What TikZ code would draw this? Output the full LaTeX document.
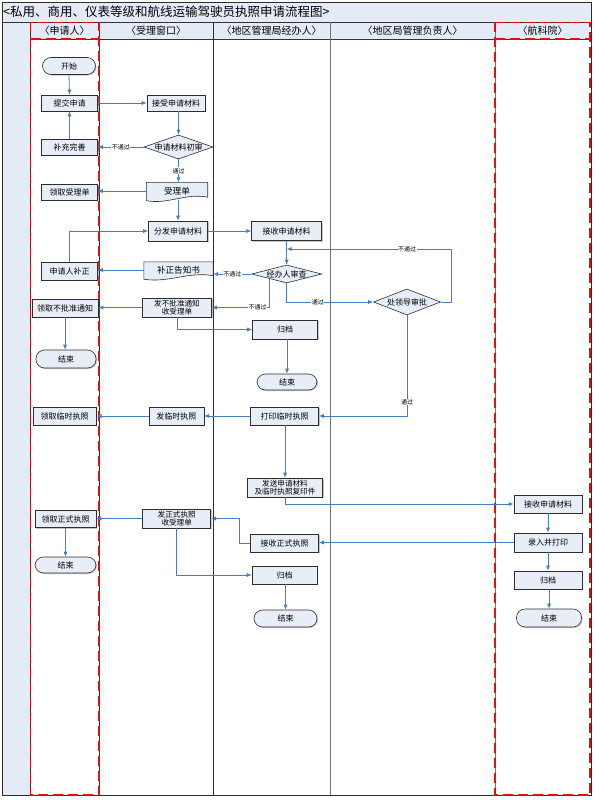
\documentclass[tikz,border=0pt]{standalone}
\usepackage{fontspec}
\setmainfont{Noto Sans CJK SC}
\usetikzlibrary{shapes.geometric,shadows,calc,arrows.meta}
\definecolor{hdr}{HTML}{E4EBF6}
\definecolor{bfill}{HTML}{E8EEF8}
\definecolor{bline}{HTML}{2E2E2E}
\definecolor{arrc}{HTML}{4A7EBB}
\definecolor{dred}{HTML}{E01010}
\pgfdeclarelayer{back}
\pgfdeclarelayer{bg}
\pgfsetlayers{back,bg,main}
\newcommand\mydocshape[1]{%
  \filldraw[draw=bline, fill=bfill, line width=0.6pt]
    (#1.north west) -- (#1.north east) -- ($(#1.south east)+(0,-2.5)$)
    .. controls ($(#1.south east)!0.35!(#1.south west)+(0,-7)$) and ($(#1.south east)!0.65!(#1.south west)+(0,5)$) .. ($(#1.south west)+(0,1)$) -- cycle;}
\begin{document}
\begin{tikzpicture}[x=1pt,y=-1pt,
  box/.style={rectangle, draw=bline, fill=bfill, line width=0.6pt, inner sep=0.5pt,
    font=\fontsize{8}{8.8}\selectfont, align=center,
    drop shadow={shadow xshift=1pt, shadow yshift=-1pt, fill=black!45}},
  term/.style={box, rounded corners=8.5pt},
  dec/.style={diamond, draw=bline, fill=bfill, line width=0.6pt, inner sep=0pt},
  dtxt/.style={font=\fontsize{8}{8.8}\selectfont},
  docn/.style={rectangle, inner sep=0.5pt, font=\fontsize{8.6}{9}\selectfont, align=center},
  arr/.style={draw=arrc, line width=0.8pt, -{Latex[length=5pt,width=4.2pt]}},
  lbl/.style={fill=white, inner sep=0.6pt, font=\fontsize{6}{6}\selectfont, text=black},
  hd/.style={font=\fontsize{10}{10}\selectfont, inner sep=0pt},
  rdash/.style={draw=dred, line width=1.9pt, dash pattern=on 10pt off 5pt}
]
\useasboundingbox (0,0) rectangle (595,800);
\begin{pgfonlayer}{back}
  \fill[white] (0,0) rectangle (595,800);
  \fill[hdr] (2,2) rectangle (591,39);
  \fill[hdr] (2,39) rectangle (30,795);
\end{pgfonlayer}
% frame and lanes
\draw[black!80, line width=0.6pt] (2,22) -- (591,22);
\draw[black!80, line width=0.6pt] (30,39) -- (591,39);
\draw[bline, line width=0.8pt] (30,22) -- (30,795);
\draw[bline, line width=0.8pt] (99,22) -- (99,795);
\draw[bline, line width=0.8pt] (213,22) -- (213,795);
\draw[black!55, line width=0.8pt] (330,22) -- (330,795);
\draw[black!55, line width=0.8pt] (495,22) -- (495,795);
\draw[bline, line width=0.9pt] (2,2) rectangle (591,795);
\draw[rdash] (30.5,22.5) rectangle (99,795);
\draw[rdash] (30.5,39) -- (99,39);
\draw[rdash] (495,22.5) rectangle (590,795);
\draw[rdash] (495,39) -- (590,39);
% title and headers
\node[anchor=west, font=\fontsize{12.5}{12.5}\selectfont, inner sep=0pt] (title) at (3,12) {<私用、商用、仪表等级和航线运输驾驶员执照申请流程图>};
\node[hd] (h1) at (64.5,30.5) {〈申请人〉};
\node[hd] (h2) at (156,30.5) {〈受理窗口〉};
\node[hd] (h3) at (271.5,30.5) {〈地区管理局经办人〉};
\node[hd] (h4) at (412.5,30.5) {〈地区局管理负责人〉};
\node[hd] (h5) at (542.5,30.5) {〈航科院〉};
% lane 1
\node[term, minimum width=53pt, minimum height=17pt] (start) at (69,66) {开始};
\node[box, minimum width=56pt, minimum height=16pt] (submit) at (69.5,103) {提交申请};
\node[box, minimum width=56pt, minimum height=16pt] (supp) at (69.5,147) {补充完善};
\node[box, minimum width=56pt, minimum height=16pt] (getacc) at (69.5,192) {领取受理单};
\node[box, minimum width=56pt, minimum height=18pt] (fix) at (69.5,271) {申请人补正};
\node[box, minimum width=66pt, minimum height=18pt] (getrej) at (65,308) {领取不批准通知};
\node[term, minimum width=60pt, minimum height=18pt] (end1) at (66,359) {结束};
\node[box, minimum width=63pt, minimum height=18pt] (gettmp) at (64.7,416) {领取临时执照};
\node[box, minimum width=61pt, minimum height=17pt] (getformal) at (65.5,519) {领取正式执照};
\node[term, minimum width=61pt, minimum height=16pt] (end2) at (65.5,565) {结束};
% lane 2
\node[box, minimum width=58pt, minimum height=16pt] (recv) at (176,103) {接受申请材料};
\node[dec, minimum width=69pt, minimum height=24pt, label={[dtxt]center:申请材料初审}] (check) at (178.5,147) {};
\node[docn, minimum width=61pt, minimum height=17pt] (accdoc) at (177,191) {受理单};
\node[box, minimum width=59pt, minimum height=20pt] (dist) at (178,231) {分发申请材料};
\node[docn, minimum width=69pt, minimum height=16pt] (notice) at (178.5,270) {补正告知书};
\node[box, minimum width=69pt, minimum height=19pt, font=\fontsize{7.6}{8.4}\selectfont] (rejnote) at (177,307.5) {发不批准通知\\收受理单};
\node[box, minimum width=55pt, minimum height=18pt] (issuetmp) at (176.3,416) {发临时执照};
\node[box, minimum width=68pt, minimum height=19pt, font=\fontsize{7.6}{8.4}\selectfont] (issueformal) at (176.7,518.5) {发正式执照\\收受理单};
% lane 3
\node[box, minimum width=70pt, minimum height=19pt] (recv2) at (286.7,231) {接收申请材料};
\node[dec, minimum width=70pt, minimum height=18pt, label={[dtxt]center:经办人审查}] (review) at (286.7,274) {};
\node[box, minimum width=65pt, minimum height=19pt] (arch1) at (285,329.5) {归档};
\node[term, minimum width=60pt, minimum height=16pt] (end3) at (287,382) {结束};
\node[box, minimum width=68pt, minimum height=18pt] (print) at (284.5,416) {打印临时执照};
\node[box, minimum width=75pt, minimum height=19pt, font=\fontsize{7.6}{8.4}\selectfont] (send) at (285,487.5) {发送申请材料\\及临时执照复印件};
\node[box, minimum width=68pt, minimum height=18pt] (recvformal) at (284.5,543) {接收正式执照};
\node[box, minimum width=65pt, minimum height=18pt] (arch2) at (284.5,575) {归档};
\node[term, minimum width=63pt, minimum height=17pt] (end4) at (285.5,618.5) {结束};
% lane 4
\node[dec, minimum width=67pt, minimum height=26pt, label={[dtxt]center:处领导审批}] (approve) at (407,302) {};
% lane 5
\node[box, minimum width=68pt, minimum height=18pt] (recv3) at (548,504) {接收申请材料};
\node[box, minimum width=68pt, minimum height=19pt] (input) at (548,542.5) {录入并打印};
\node[box, minimum width=68pt, minimum height=18pt] (arch3) at (548,580) {归档};
\node[term, minimum width=65pt, minimum height=18pt] (end5) at (549,618) {结束};
% document shapes
\begin{pgfonlayer}{bg}
  \mydocshape{accdoc}
  \mydocshape{notice}
\end{pgfonlayer}
\coordinate (j1) at (286.7,249);
\coordinate (c1) at (451.7,249);
% connectors
\draw[arr] (start.south) -- (submit.north);
\draw[arr] (submit.east) -- (recv.west);
\draw[arr] (recv.south -| check.north) -- (check.north);
\draw[arr] (check.west) -- node[lbl] {不通过} (supp.east);
\draw[arr] (supp.north) -- (submit.south);
\draw[arr] (check.south) -- node[lbl] {通过} (accdoc.north -| check.south);
\draw[arr] (accdoc.west) -- (accdoc.west -| getacc.east);
\draw[arr] (dist.north |- accdoc.south) -- (dist.north);
\draw[arr] (fix.north) |- (dist.west);
\draw[arr] (dist.east) -- (dist.east -| recv2.west);
\draw[arr] (recv2.south) -- (review.north);
\draw[arr] (review.west) -- node[lbl] {不通过} (review.west -| notice.east);
\draw[arr] (notice.west) -- (notice.west -| fix.east);
\draw[arr] (review.south west) |- node[lbl, pos=0.6] {不通过} (rejnote.east);
\draw[arr] (review.south) |- node[lbl, pos=0.68] {通过} (approve.west);
\draw[arr] (approve.east) -| (c1) -- node[lbl, pos=0.27] {不通过} (j1);
\draw[arr] (approve.south) |- node[lbl, pos=0.43] {通过} (print.east);
\draw[arr] (rejnote.west) -- (rejnote.west -| getrej.east);
\draw[arr] (rejnote.south) |- (arch1.west);
\draw[arr] (getrej.south) -- (getrej.south |- end1.north);
\draw[arr] (arch1.south -| end3.north) -- (end3.north);
\draw[arr] (print.west) -- (issuetmp.east);
\draw[arr] (issuetmp.west) -- (issuetmp.west -| gettmp.east);
\draw[arr] (print.south -| send.north) -- (send.north);
\draw[arr] (send.south) |- (recv3.west);
\draw[arr] (input.west) -- (input.west -| recvformal.east);
\draw[arr] (recvformal.west) -- ++(-10.7,0) |- (issueformal.east);
\draw[arr] (issueformal.west) -- (issueformal.west -| getformal.east);
\draw[arr] (getformal.south) -- (end2.north);
\draw[arr] (issueformal.south) |- (arch2.west);
\draw[arr] (arch2.south -| end4.north) -- (end4.north);
\draw[arr] (recv3.south) -- (input.north);
\draw[arr] (input.south) -- (arch3.north);
\draw[arr] (arch3.south -| end5.north) -- (end5.north);
\end{tikzpicture}
\end{document}
